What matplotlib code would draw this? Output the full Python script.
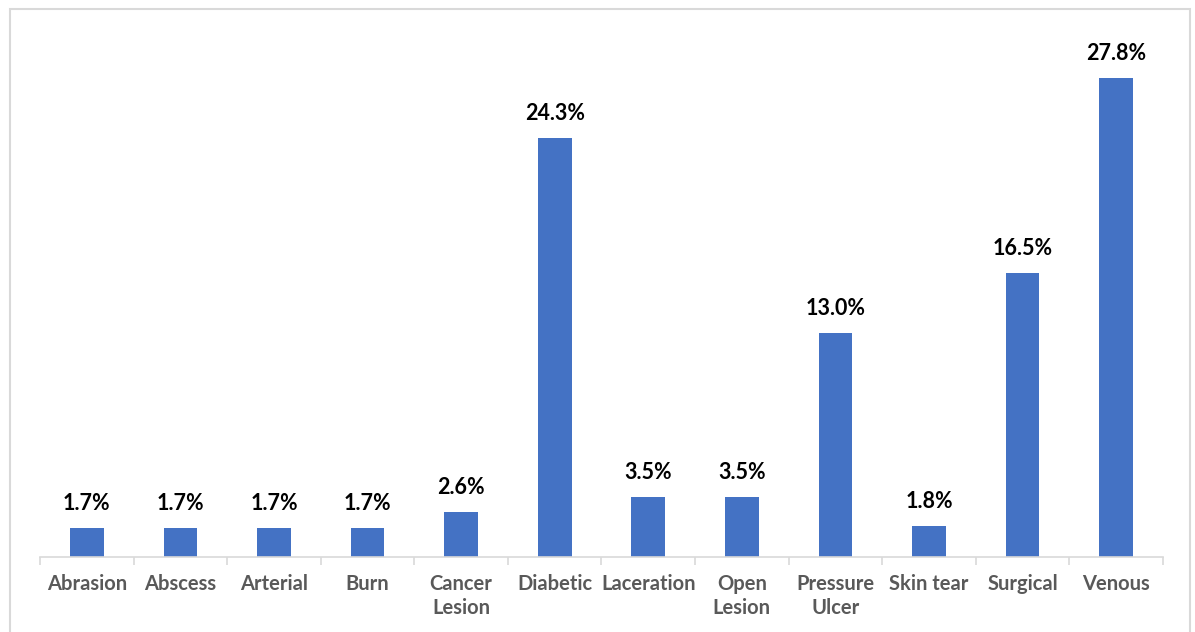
import matplotlib
matplotlib.use("Agg")
import matplotlib.pyplot as plt
from matplotlib.patches import Rectangle
import numpy as np

categories = ["Abrasion", "Abscess", "Arterial", "Burn", "Cancer\nLesion", "Diabetic",
              "Laceration", "Open\nLesion", "Pressure\nUlcer", "Skin tear", "Surgical", "Venous"]
values = [1.7, 1.7, 1.7, 1.7, 2.6, 24.3, 3.5, 3.5, 13.0, 1.8, 16.5, 27.8]

plt.rcParams['font.family'] = ['Lato', 'DejaVu Sans']

W, H = 1195, 632
fig = plt.figure(figsize=(W / 100, H / 100), dpi=100)
fig.patch.set_facecolor("white")

# outer border
fig.add_artist(Rectangle((10 / W, -0.05), 1180 / W, 1.05 - 9 / H, transform=fig.transFigure,
                         fill=False, edgecolor="#d9d9d9", linewidth=1.5))

ax = fig.add_axes([40 / W, (H - 557) / H, (1163 - 40) / W, (557 - 40) / H])
x = np.arange(len(categories))
bars = ax.bar(x, values, width=0.36, color="#4472C4")
ax.set_xlim(-0.5, len(categories) - 0.5)
ax.set_ylim(0, 30)

for xi, v in zip(x, values):
    ax.annotate(f"{v:.1f}%", (xi, v), xytext=(0, 10), textcoords="offset points",
                ha="center", va="bottom", fontsize=15.5, fontweight="bold", color="black")

for s in ["top", "right", "left"]:
    ax.spines[s].set_visible(False)
ax.spines["bottom"].set_color("#d9d9d9")
ax.spines["bottom"].set_linewidth(1.2)
ax.set_yticks([])

ax.set_xticks(x)
ax.set_xticklabels(categories, fontsize=14.5, fontweight="bold", color="#595959", linespacing=1.3)
ax.tick_params(axis="x", which="major", length=0, pad=12)
ax.set_xticks(np.arange(-0.5, len(categories)), minor=True)
ax.tick_params(axis="x", which="minor", length=6, color="#d9d9d9", width=1.2)

fig.savefig("out.png", dpi=100)
